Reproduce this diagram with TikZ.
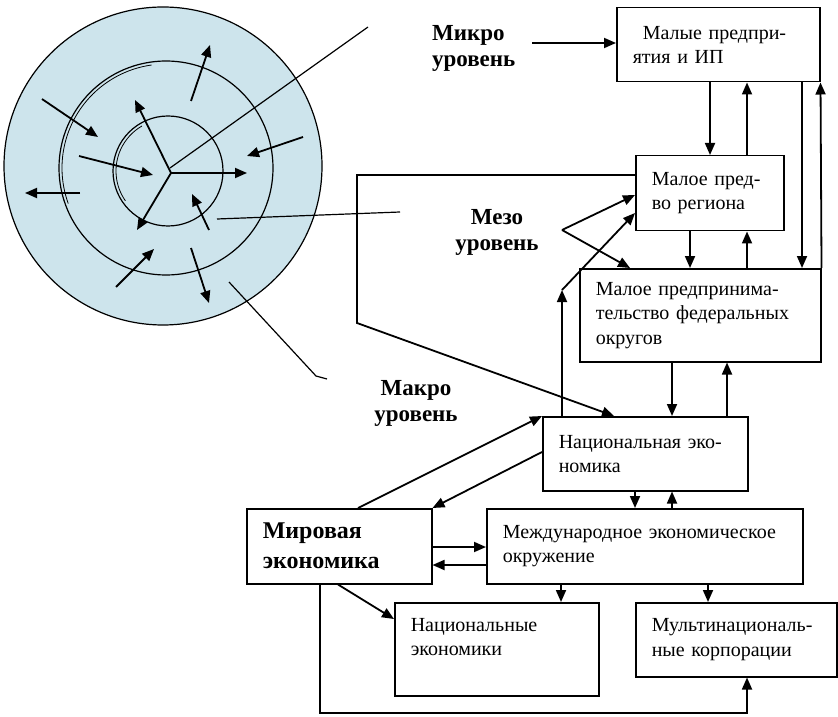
\documentclass[tikz,border=0pt]{standalone}
\usepackage{fontspec}
\setmainfont{Liberation Serif}
\usetikzlibrary{arrows.meta}
\definecolor{krug}{RGB}{205,228,236}

\begin{document}
\begin{tikzpicture}[x=0.5pt, y=-0.5pt,
  blok/.style={draw, line width=0.75pt, anchor=north west, align=left, inner xsep=8pt, inner ysep=0pt, font=\fontsize{10}{12.2}\selectfont},
  uroven/.style={font=\fontsize{11.5}{13}\selectfont\bfseries},
  arr/.style={line width=0.9pt, -{Triangle[length=6pt,width=5pt]}},
  lin/.style={line width=0.6pt}]
\useasboundingbox (0,0) rectangle (838,716);

\fill[krug] (163,166) circle[radius=159];
\draw[lin] (163,166) circle[radius=159];
\draw[lin] (166,168) circle[radius=107];
\draw[lin, line width=0.4pt] ([shift={(160:104)}]166,168) arc[start angle=160, end angle=262, radius=104];
\draw[lin] (168,171) circle[radius=55];
\draw[lin, line width=0.4pt] ([shift={(145:52)}]168,171) arc[start angle=145, end angle=240, radius=52];
\foreach \xa/\ya/\xb/\yb in {171/173/135/100, 171/173/247/173, 171/173/137/230,
  42/99/98/137, 79/156/153/175, 191/101/210/45, 303/137/247/156, 80/193/25/193,
  209/230/192/194, 116/287/154/249, 191/248/209/303}
  \draw[arr] (\xa,\ya) -- (\xb,\yb);
\draw[lin] (170,168) -- (368,27);
\draw[lin] (217,219) -- (400,212);
\draw[lin] (229,282) -- (316,376) -- (327,379);

\node[blok, text width=85.5pt, minimum height=37pt] (mal) at (616,7) {\hspace*{5pt}Малые предпри-\\ятия и ИП};
\node[blok, text width=58pt, minimum height=37.5pt] (reg) at (635,155) {Малое пред-\\во региона};
\node[blok, text width=104.5pt, minimum height=46.5pt] (fed) at (579,268) {Малое предпринима-\\тельство федеральных\\округов};
\node[blok, text width=86.5pt, minimum height=37pt] (nat) at (542,416) {Национальная эко-\\номика};
\node[blok, text width=76.5pt, minimum height=37.5pt, font=\fontsize{12}{15}\selectfont\bfseries] (mir) at (246,508) {Мировая\\экономика};
\node[blok, text width=142pt, minimum height=37.5pt] (mezh) at (486,508) {Международное экономическое\\окружение};
\node[blok, text width=86pt, minimum height=46.5pt] (nats) at (394,602) {Национальные\\экономики\\~};
\node[blok, text width=84.5pt, minimum height=37pt] (mult) at (635,602) {Мультинациональ-\\ные корпорации};

\node[uroven, anchor=west, align=left] (mikro) at (425,48) {Микро\\уровень};
\node[uroven, align=center] (mezo) at (497,232) {Мезо\\уровень};
\node[uroven, align=center] (makro) at (416,403) {Макро\\уровень};

\coordinate (mezov) at (562,230);
\coordinate (ugol) at (562,290);
\coordinate (skoba1) at (357,175);
\coordinate (skoba2) at (357,323);
\coordinate (niz) at (320,713);

\draw[arr] ([xshift=5pt]mikro.east |- 0,43) -- (mal.west |- 0,43);
\draw[arr] (mal.south -| 710,0) -- (reg.north -| 710,0);
\draw[arr] (reg.north -| 747,0) -- (mal.south -| 747,0);
\draw[arr] (mal.south -| 802,0) -- (fed.north -| 802,0);
\draw[arr] (fed.north east) -- (mal.south east);
\draw[arr] (reg.south -| 690,0) -- (fed.north -| 690,0);
\draw[arr] (fed.north -| 747,0) -- (reg.south -| 747,0);
\draw[arr] (mezov) -- (reg.west |- 0,195);
\draw[arr] (mezov) -- (fed.north -| 630,0);
\draw[arr] (nat.north -| ugol) -- (ugol);
\draw[arr] (ugol) -- (reg.west |- 0,213);
\draw[arr] (reg.west |- skoba1) -- (skoba1) -- (skoba2) -- (nat.north -| 614,0);
\draw[arr] (fed.south -| 672,0) -- (nat.north -| 672,0);
\draw[arr] (nat.north -| 727,0) -- (fed.south -| 727,0);
\draw[arr] (nat.south -| 635,0) -- (mezh.north -| 635,0);
\draw[arr] (mezh.north -| 672,0) -- (nat.south -| 672,0);
\draw[arr] (mir.north -| 358,0) -- (nat.north west);
\draw[arr] (nat.west |- 0,452) -- (mir.north east);
\draw[arr] (mir.east |- 0,547) -- (mezh.west |- 0,547);
\draw[arr] (mezh.west |- 0,565) -- (mir.east |- 0,565);
\draw[arr] (mezh.south -| 561,0) -- (nats.north -| 561,0);
\draw[arr] (mezh.south -| 708,0) -- (mult.north -| 708,0);
\draw[arr] (mir.south -| 338,0) -- (nats.west |- 0,619);
\draw[arr] (mir.south -| niz) -- (niz) -| (mult.south -| 747,0);
\end{tikzpicture}
\end{document}
